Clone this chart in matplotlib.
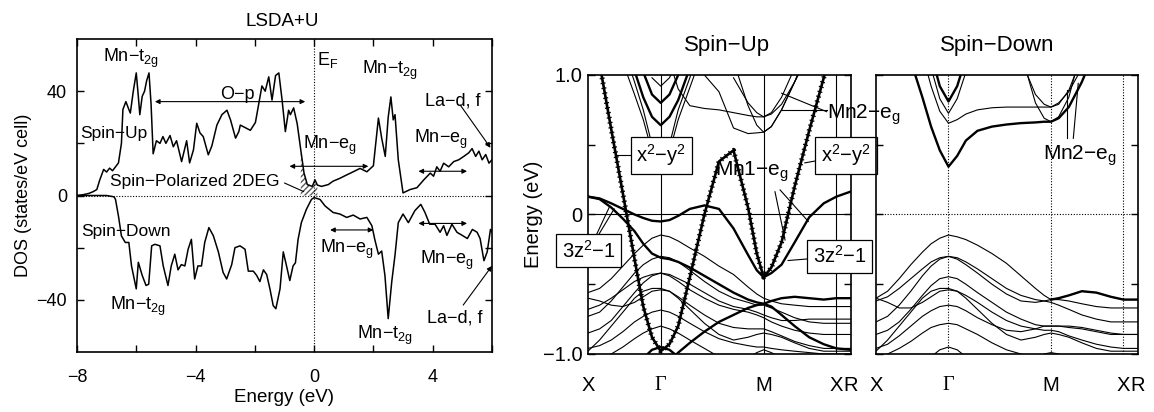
import numpy as np
import matplotlib
matplotlib.use('Agg')
import matplotlib.pyplot as plt

plt.rcParams['font.family'] = ['Liberation Sans', 'DejaVu Sans']
plt.rcParams['mathtext.fontset'] = 'custom'
plt.rcParams['mathtext.rm'] = 'Liberation Sans'
plt.rcParams['mathtext.it'] = 'Liberation Sans:italic'
plt.rcParams['mathtext.bf'] = 'Liberation Sans:bold'
nan = np.nan

# ---------------- DOS data ----------------
dos_energy_up = [-8.0, -7.8, -7.6, -7.45, -7.33, -7.23, -7.1, -7.0, -6.9, -6.8, -6.7, -6.6, -6.5, -6.45,
                 -6.35, -6.25, -6.2, -6.1, -6.0, -5.93, -5.88, -5.8, -5.72, -5.65, -5.57, -5.5, -5.43,
                 -5.32, -5.2, -5.1, -5.0, -4.86, -4.75, -4.64, -4.47, -4.3, -4.2, -4.07, -3.96, -3.85,
                 -3.74, -3.57, -3.45, -3.28, -3.11, -2.94, -2.82, -2.65, -2.54, -2.49, -2.32, -2.15,
                 -1.98, -1.87, -1.76, -1.65, -1.53, -1.42, -1.3, -1.19, -1.08, -0.97, -0.86, -0.8,
                 -0.69, -0.57, -0.45, -0.34, -0.23, -0.06, 0.03, 0.11, 0.25, 0.48, 0.64, 0.87, 1.1,
                 1.32, 1.55, 1.78, 2.0, 2.17, 2.28, 2.4, 2.5, 2.59, 2.67, 2.73, 2.84, 3.0, 3.24, 3.47,
                 3.7, 3.92, 4.03, 4.14, 4.25, 4.37, 4.54, 4.71, 4.88, 5.05, 5.22, 5.33, 5.45, 5.56,
                 5.67, 5.79, 5.9, 6.0]
dos_up = [0, 0.3, 0.8, 1.5, 2.3, 6, 10, 9, 10.5, 9.5, 11, 12.5, 20, 33,
          36, 33, 31.6, 40, 47, 38, 31, 38, 40, 44, 47, 35, 16,
          21, 20, 22.6, 20, 23, 18.7, 21, 13, 21, 12.5, 17.5, 27.7, 24,
          22.6, 15.6, 19, 27, 31, 32.7, 29, 22, 24.5, 27, 26, 25,
          28, 35, 42, 40, 45.5, 36.6, 46, 47, 36.6, 24.5, 32.7, 31,
          33.6, 27.5, 17.5, 8.6, 4.2, 3.5, 6, 4, 3.5, 4.2, 5.5, 6.6, 7.9,
          9.1, 10.4, 9.1, 11.4, 29.7, 22, 15, 30, 37.8, 29, 31, 13.7, 1, 2.3, 3,
          6, 8.6, 7.4, 11, 9.3, 12.4, 11, 13, 13.7, 15, 16.4, 18, 15, 17,
          13.7, 15.7, 12.4, 13.7]

dos_energy_dn = [-8.0, -7.0, -6.75, -6.7, -6.6, -6.5, -6.37, -6.25, -6.16, -6.0, -5.93, -5.8, -5.67,
                 -5.58, -5.48, -5.37, -5.2, -5.09, -4.93, -4.82, -4.7, -4.59, -4.48, -4.36, -4.25,
                 -4.14, -4.03, -3.92, -3.8, -3.69, -3.55, -3.4, -3.23, -3.07, -2.95, -2.78, -2.67,
                 -2.5, -2.33, -2.22, -2.05, -1.94, -1.83, -1.71, -1.6, -1.49, -1.38, -1.29, -1.15,
                 -1.04, -0.93, -0.82, -0.71, -0.63, -0.54, -0.43, -0.26, -0.09, 0.0, 0.2, 0.37,
                 0.64, 0.87, 1.1, 1.32, 1.55, 1.78, 1.95, 2.05, 2.17, 2.28, 2.39, 2.5, 2.62, 2.73,
                 2.84, 3.0, 3.18, 3.4, 3.6, 3.74, 3.9, 4.08, 4.25, 4.37, 4.48, 4.65, 4.82, 5.0,
                 5.17, 5.34, 5.5, 5.6, 5.73, 5.84, 5.95, 6.0]
dos_dn = [0, 0, -0.5, -1.5, -7.9, -15.5, -18, -18, -27, -35.8, -25.6, -30.6, -34.5,
          -34, -19.3, -18.7, -19.3, -27, -34.5, -27, -22.5, -28.5, -26.5, -27, -20.6,
          -16.8, -32, -27, -27, -18, -12.3, -15.4, -21.6, -29.5, -32, -26.5, -20,
          -19.3, -20.6, -29, -29, -30.6, -33, -28.5, -30.3, -35.8, -42.2, -43.4, -35.8,
          -21.6, -27, -32.6, -27, -25.8, -16.8, -10.4, -5.3, -1.5, -0.8, -1.5, -4,
          -6.5, -7.1, -8.4, -7.5, -9, -8.4, -11.6, -17, -22.5, -21.3, -30.7, -47.2, -33, -22.8,
          -10.4, -7.1, -10.4, -5.8, -3.4, -6.5, -11, -11, -14.1, -11.6, -15.3, -11, -14.1, -15.3,
          -16.5, -13, -14.1, -16.5, -25, -21.6, -13, -14]

# ---------------- band structure data ----------------
k_path = [0.0, 0.08, 0.16, 0.24, 0.32, 0.38, 0.44, 0.5, 0.56, 0.62, 0.7, 0.8, 0.9, 1.0,
          1.1, 1.16, 1.207, 1.26, 1.33, 1.42, 1.52, 1.62, 1.707, 1.807]
k_sym = [0.0, 0.5, 1.207, 1.707, 1.807]
k_labels = ['X', 'Γ', 'M', 'X', 'R']

# spin-up
up_x2y2 = [1.55, 1.08, 0.61, 0.15, -0.32, -0.66, -0.88, -0.98, -0.93, -0.8, -0.45, 0.0, 0.38, 0.46,
           0.05, -0.28, -0.45, -0.38, -0.2, 0.2, 0.6, 0.98, 1.35, 1.7]
up_3z2 = [0.128, 0.115, 0.08, 0.04, 0.0, -0.025, -0.045, -0.05, -0.04, -0.01, 0.04, 0.065, 0.04, -0.1,
          -0.29, -0.4, -0.45, -0.42, -0.36, -0.2, -0.02, 0.08, 0.128, 0.165]
up_thick_a = [0.128, 0.11, 0.05, -0.03, -0.12, -0.21, -0.28, -0.31, -0.32, -0.34, -0.38, -0.44, -0.5, -0.56,
              -0.61, -0.63, -0.64, -0.62, -0.6, -0.59, -0.6, -0.61, -0.6, -0.6]
up_thick_b = [nan, nan, nan, nan, 1.03, 0.84, 0.7, 0.64, 0.7, 0.82, 1.05, nan, nan, nan,
              nan, nan, nan, nan, nan, nan, nan, nan, nan, nan]
up_thick_c = [nan, nan, nan, nan, nan, 1.02, 0.86, 0.80, 0.86, 1.0, 1.2, nan, nan, nan,
              nan, nan, nan, nan, nan, nan, nan, nan, nan, nan]
up_thick_d = [-1.3, -1.3, -1.3, -1.3, -1.25, -1.2, -1.15, -1.1, -1.05, -0.99, -0.92, -0.84, -0.77, -0.72,
              -0.67, -0.65, -0.64, -0.66, -0.72, -0.8, -0.88, -0.93, -0.96, -0.97]
up_thick_e = [nan, nan, nan, nan, -1.15, -1.03, -0.97, -0.95, -0.97, -1.02, -1.1, nan, nan, nan,
              nan, nan, nan, nan, nan, nan, nan, nan, nan, nan]
up_c1 = [nan, nan, nan, 1.09, 0.86, 0.68, 0.45, 0.30, 0.45, 0.68, 0.91, 1.2, nan, nan,
         nan, nan, nan, nan, nan, nan, nan, nan, nan, nan]
up_c2 = [nan, nan, nan, 1.2, 0.95, 0.75, 0.5, 0.31, 0.5, 0.75, 0.98, 1.3, nan, nan,
         nan, nan, nan, nan, nan, nan, nan, nan, nan, nan]
up_c3 = [nan, nan, nan, nan, nan, nan, 0.98, 0.92, 0.98, 1.1, nan, nan, nan, nan,
         nan, nan, nan, nan, nan, nan, nan, nan, nan, nan]
up_c4 = [nan, nan, nan, nan, nan, nan, nan, nan, nan, nan, 1.15, 1.0, 0.88, 0.62,
         0.58, 0.585, 0.59, 0.63, 0.75, 0.95, 1.2, nan, nan, nan]
up_c5 = [nan, nan, nan, nan, nan, nan, nan, nan, 1.1, 0.9, 0.78, 0.76, 0.75, 0.73,
         0.71, 0.70, 0.70, 0.72, 0.79, 0.95, 1.15, nan, nan, nan]
up_c6 = [nan, nan, nan, nan, nan, nan, nan, nan, nan, nan, nan, nan, nan, 0.98,
         0.8, 0.73, 0.70, 0.73, 0.84, 1.05, nan, nan, nan, nan]
up_c7 = [nan, nan, nan, nan, nan, nan, nan, nan, nan, nan, nan, nan, nan, 1.1,
         0.78, 0.64, 0.59, 0.63, 0.75, 0.95, 1.2, nan, nan, nan]
up_v1 = [-0.56, -0.53, -0.46, -0.37, -0.28, -0.22, -0.17, -0.147, -0.16, -0.19, -0.24, -0.3, -0.37, -0.43,
         -0.52, -0.57, -0.6, -0.62, -0.64, -0.65, -0.66, -0.66, -0.66, -0.66]
up_v2 = [-0.73, -0.7, -0.62, -0.52, -0.42, -0.36, -0.32, -0.3, -0.31, -0.34, -0.4, -0.48, -0.55, -0.6,
         -0.63, -0.65, -0.65, -0.67, -0.7, -0.74, -0.77, -0.78, -0.78, -0.78]
up_v3 = [-0.85, -0.82, -0.76, -0.66, -0.56, -0.49, -0.44, -0.42, -0.44, -0.48, -0.54, -0.6, -0.65, -0.68,
         -0.7, -0.72, -0.74, -0.77, -0.8, -0.83, -0.85, -0.86, -0.86, -0.86]
up_v4 = [-0.6, -0.62, -0.65, -0.66, -0.63, -0.59, -0.55, -0.54, -0.55, -0.59, -0.65, -0.72, -0.78, -0.81,
         -0.82, -0.82, -0.82, -0.84, -0.87, -0.91, -0.94, -0.96, -0.96, -0.96]
up_v5 = [-0.96, -0.94, -0.9, -0.84, -0.77, -0.73, -0.7, -0.685, -0.7, -0.73, -0.78, -0.84, -0.89, -0.92,
         -0.94, -0.95, -0.95, -0.96, -0.97, -0.98, -0.99, -1.0, -1.0, -1.0]
up_v6 = [-1.05, -1.03, -1.0, -0.95, -0.89, -0.85, -0.82, -0.80, -0.82, -0.85, -0.9, -0.96, -1.02, -1.06,
         -1.1, -1.1, -1.1, -1.1, -1.1, -1.1, -1.1, -1.1, -1.1, -1.1]
up_v7 = [-0.68, -0.65, -0.6, -0.54, -0.48, -0.45, -0.43, -0.42, -0.43, -0.46, -0.5, -0.56, -0.62, -0.66,
         -0.68, -0.7, -0.72, -0.74, -0.76, -0.76, -0.75, -0.75, -0.75, -0.75]
up_v8 = [nan, nan, nan, nan, nan, nan, nan, nan, nan, nan, nan, nan, nan, -1.1,
         -1.03, -0.99, -0.97, -0.99, -1.03, -1.1, nan, nan, nan, nan]
up_v9 = [-0.98, -0.9, -0.8, -0.7, -0.6, -0.55, -0.53, -0.53, -0.55, -0.6, -0.68, -0.78, -0.86, -0.9,
         -0.88, -0.86, -0.85, -0.86, -0.88, -0.92, -0.96, -0.98, -0.98, -0.98]

# spin-down
dn_thick_a = [nan, nan, nan, 1.1, 0.84, 0.63, 0.46, 0.343, 0.42, 0.53, 0.6, 0.63, 0.645, 0.655,
              0.66, 0.665, 0.665, 0.69, 0.77, 0.95, 1.2, nan, nan, nan]
dn_thick_b = [nan, nan, nan, nan, nan, 1.15, 0.92, 0.81, 0.92, 1.12, nan, nan, nan, nan,
              nan, nan, nan, nan, nan, nan, nan, nan, nan, nan]
dn_thick_c = [nan, nan, nan, nan, nan, nan, nan, nan, nan, nan, nan, nan, nan, nan,
              nan, nan, -0.61, -0.6, -0.58, -0.55, -0.56, -0.59, -0.61, -0.61]
dn_c1 = [nan, nan, nan, nan, 1.15, 0.92, 0.74, 0.654, 0.68, 0.72, 0.75, 0.765, 0.77, 0.77,
         0.77, 0.77, 0.77, 0.8, 0.88, 1.05, 1.3, nan, nan, nan]
dn_c2 = [nan, nan, nan, nan, nan, 1.05, 0.83, 0.725, 0.83, 1.02, 1.25, nan, nan, nan,
         nan, nan, nan, nan, nan, nan, nan, nan, nan, nan]
dn_c3 = [nan, nan, nan, nan, nan, nan, nan, nan, nan, nan, nan, nan, nan, 1.16,
         0.8, 0.69, 0.665, 0.7, 0.84, 1.19, nan, nan, nan, nan]
dn_c4 = [nan, nan, nan, nan, nan, nan, nan, nan, nan, nan, nan, nan, nan, 1.11,
         0.86, 0.79, 0.77, 0.79, 0.89, 1.13, nan, nan, nan, nan]
dn_v0 = [-0.6, -0.55, -0.46, -0.36, -0.27, -0.21, -0.17, -0.147, -0.16, -0.18, -0.22, -0.28, -0.35, -0.44,
         -0.53, -0.58, -0.61, -0.6, -0.58, -0.55, -0.56, -0.59, -0.61, -0.61]
dn_v1 = [-0.77, -0.73, -0.65, -0.55, -0.44, -0.37, -0.32, -0.30, -0.31, -0.34, -0.39, -0.46, -0.53, -0.58,
         -0.61, -0.62, -0.63, -0.65, -0.68, -0.72, -0.75, -0.77, -0.77, -0.77]
dn_v2 = [-0.86, -0.83, -0.77, -0.68, -0.58, -0.51, -0.46, -0.446, -0.46, -0.5, -0.56, -0.63, -0.7, -0.75,
         -0.79, -0.8, -0.8, -0.8, -0.8, -0.81, -0.83, -0.85, -0.86, -0.86]
dn_v3 = [-0.6, -0.63, -0.67, -0.67, -0.63, -0.59, -0.55, -0.54, -0.55, -0.58, -0.63, -0.7, -0.76, -0.8,
         -0.82, -0.83, -0.83, -0.84, -0.87, -0.9, -0.93, -0.95, -0.96, -0.96]
dn_v4 = [-0.96, -0.93, -0.87, -0.8, -0.73, -0.69, -0.66, -0.65, -0.66, -0.69, -0.74, -0.79, -0.83, -0.84,
         -0.82, -0.8, -0.8, -0.8, -0.81, -0.82, -0.84, -0.86, -0.86, -0.86]
dn_v5 = [-1.02, -1.0, -0.96, -0.91, -0.85, -0.81, -0.79, -0.78, -0.79, -0.82, -0.86, -0.92, -0.97, -1.0,
         -1.03, -1.05, -1.05, -1.05, -1.05, -1.05, -1.05, -1.05, -1.05, -1.05]
dn_v6 = [nan, nan, nan, nan, -1.12, -1.02, -0.97, -0.95, -0.97, -1.02, -1.1, nan, nan, nan,
         nan, nan, nan, nan, nan, nan, nan, nan, nan, nan]
dn_v7 = [-0.62, -0.59, -0.53, -0.46, -0.39, -0.34, -0.31, -0.3, -0.32, -0.36, -0.42, -0.5, -0.57, -0.62,
         -0.63, -0.62, -0.61, -0.61, -0.62, -0.64, -0.66, -0.67, -0.67, -0.67]
dn_v8 = [nan, nan, nan, nan, nan, nan, nan, nan, nan, nan, nan, nan, nan, -1.1,
         -1.04, -1.0, -0.99, -1.0, -1.04, -1.1, nan, nan, nan, nan]
dn_v9 = [-0.98, -0.9, -0.8, -0.7, -0.6, -0.55, -0.53, -0.53, -0.55, -0.6, -0.68, -0.78, -0.86, -0.9,
         -0.88, -0.86, -0.85, -0.86, -0.88, -0.92, -0.96, -0.98, -0.98, -0.98]

# ---------------- figure ----------------
fig = plt.figure(figsize=(11.54, 4.12), dpi=100)
ax1 = fig.add_axes([0.0667, 0.1456, 0.3596, 0.7597])
ax2 = fig.add_axes([0.5095, 0.1408, 0.2279, 0.6772])
ax3 = fig.add_axes([0.7591, 0.1408, 0.2270, 0.6772])
ax3.patch.set_alpha(0)

for ax in (ax1, ax2, ax3):
    for s in ax.spines.values():
        s.set_linewidth(1.2)

# ---- DOS panel ----
E_up = np.array(dos_energy_up)
D_up = np.array(dos_up)
ax1.plot(E_up, D_up, color='k', lw=1.1)
ax1.plot(dos_energy_dn, dos_dn, color='k', lw=1.1)
ax1.axhline(0, color='k', lw=0.8, ls=(0, (1, 1.5)))
ax1.axvline(0, color='k', lw=0.8, ls=(0, (1, 1.5)))
mask = (E_up >= -0.45) & (E_up <= 0.11)
ax1.fill_between(E_up, 0, D_up, where=mask, facecolor='none', edgecolor='0.35', hatch='//////', lw=0)
ax1.set_xlim(-8, 6)
ax1.set_ylim(-60, 60)
ax1.set_xticks([-8, -6, -4, -2, 0, 2, 4, 6])
ax1.set_xticklabels(['−8', '', '−4', '', '0', '', '4', ''])
ax1.set_yticks([-40, -20, 0, 20, 40])
ax1.set_yticklabels(['−40', '', '0', '', '40'])
ax1.tick_params(direction='in', top=True, right=True, length=5, width=1, labelsize=13)
ax1.tick_params(axis='x', pad=12)
ax1.tick_params(axis='y', pad=7)
ax1.set_xlabel('Energy (eV)', fontsize=13.5)
ax1.set_ylabel('DOS (states/eV cell)', fontsize=13)
ax1.xaxis.set_label_coords(0.5, -0.118)
ax1.yaxis.set_label_coords(-0.108, 0.5)
ax1.text(0.494, 1.042, 'LSDA+U', transform=ax1.transAxes, ha='center', va='baseline', fontsize=13.5)

fs = 13
fss = 12.5
ax1.text(-7.13, 51.2, 'Mn−t$_\\mathrm{2g}$', fontsize=fs)
ax1.text(-3.18, 37.1, 'O−p', fontsize=fs)
ax1.text(0.09, 49.9, 'E$_\\mathrm{F}$', fontsize=fs)
ax1.text(1.61, 46.7, 'Mn−t$_\\mathrm{2g}$', fontsize=fs)
ax1.text(3.75, 34.7, 'La−d, f', fontsize=fs)
ax1.text(3.36, 20.0, 'Mn−e$_\\mathrm{g}$', fontsize=fs)
ax1.text(-0.36, 17.8, 'Mn−e$_\\mathrm{g}$', fontsize=fs)
ax1.text(-7.9, 22.2, 'Spin−Up', fontsize=fss)
ax1.text(-6.89, 3.6, 'Spin−Polarized 2DEG', fontsize=fss)
ax1.text(-7.87, -15.7, 'Spin−Down', fontsize=fss)
ax1.text(-6.89, -44.0, 'Mn−t$_\\mathrm{2g}$', fontsize=fs)
ax1.text(0.2, -22.1, 'Mn−e$_\\mathrm{g}$', fontsize=fs)
ax1.text(1.44, -55.1, 'Mn−t$_\\mathrm{2g}$', fontsize=fs)
ax1.text(3.58, -26.3, 'Mn−e$_\\mathrm{g}$', fontsize=fs)
ax1.text(3.81, -48.5, 'La−d, f', fontsize=fs)

dbl = dict(arrowstyle='<|-|>', lw=0.8, color='k', shrinkA=0, shrinkB=0, mutation_scale=7)
sgl = dict(arrowstyle='-|>', lw=0.8, color='k', shrinkA=0, shrinkB=0, mutation_scale=7)
ax1.annotate('', xy=(-0.3, 36), xytext=(-5.37, 36), arrowprops=dbl)
ax1.annotate('', xy=(1.83, 11.2), xytext=(-0.83, 11.2), arrowprops=dbl)
ax1.annotate('', xy=(5.16, 9.3), xytext=(3.52, 9.3), arrowprops=dbl)
ax1.annotate('', xy=(2.0, -13.2), xytext=(0.54, -13.2), arrowprops=dbl)
ax1.annotate('', xy=(5.16, -10.7), xytext=(3.52, -10.7), arrowprops=dbl)
ax1.annotate('', xy=(5.95, 18.3), xytext=(4.93, 34.7), arrowprops=sgl)
ax1.annotate('', xy=(6.0, -27), xytext=(5.03, -42), arrowprops=sgl)
ax1.annotate('', xy=(-0.35, 1.5), xytext=(-1.0, 4.8),
             arrowprops=dict(arrowstyle='-', lw=0.8, color='k', shrinkA=0, shrinkB=0))

# ---- band panels ----
def setup_band_axis(ax, dotted, ylabels):
    ls = (0, (1, 1.5)) if dotted else '-'
    for kk in k_sym[1:4]:
        ax.axvline(kk, color='k', lw=0.8, ls=ls, zorder=1)
    ax.axhline(0, color='k', lw=0.8, ls=ls, zorder=1)
    ax.set_xlim(k_sym[0], k_sym[-1])
    ax.set_ylim(-1, 1)
    ax.set_xticks(k_sym)
    ax.set_xticklabels(k_labels, fontsize=14.5)
    ax.set_yticks([-1, -0.5, 0, 0.5, 1])
    if ylabels:
        ax.set_yticklabels(['−1.0', '', '0', '', '1.0'], fontsize=14.5)
    else:
        ax.set_yticklabels([])
    ax.tick_params(axis='y', direction='in', left=True, right=True, length=5, width=1, pad=4)
    ax.tick_params(axis='x', length=0, pad=16)
    for lbl in ax.get_xticklabels():
        if lbl.get_text() == 'Γ':
            lbl.set_fontfamily('Liberation Serif')

setup_band_axis(ax2, False, True)
setup_band_axis(ax3, True, False)

thin, thick = 0.8, 1.7
for b in [up_c1, up_c2, up_c3, up_c4, up_c5, up_c6, up_c7, up_v1, up_v2, up_v3, up_v4, up_v5,
          up_v6, up_v7, up_v8, up_v9]:
    ax2.plot(k_path, b, color='k', lw=thin)
for b in [up_thick_a, up_thick_b, up_thick_c, up_thick_d, up_thick_e, up_3z2]:
    ax2.plot(k_path, b, color='k', lw=thick)
ax2.plot(k_path, up_x2y2, color='k', lw=1.9)
ax2.plot(k_path, up_x2y2, color='k', lw=3.6, ls=(0, (0.25, 0.75)), dash_capstyle='butt')

for b in [dn_c1, dn_c2, dn_c3, dn_c4, dn_v0, dn_v1, dn_v2, dn_v3, dn_v4, dn_v5, dn_v6, dn_v7, dn_v8, dn_v9]:
    ax3.plot(k_path, b, color='k', lw=thin)
for b in [dn_thick_a, dn_thick_b, dn_thick_c]:
    ax3.plot(k_path, b, color='k', lw=thick)

ax2.set_ylabel('Energy (eV)', fontsize=14.5)
ax2.yaxis.set_label_coords(-0.171, 0.5)
ax2.text(0.53, 1.087, 'Spin−Up', transform=ax2.transAxes, ha='center', va='baseline', fontsize=16)
ax3.text(0.464, 1.087, 'Spin−Down', transform=ax3.transAxes, ha='center', va='baseline', fontsize=16)

box = dict(boxstyle='square,pad=0.28', facecolor='white', edgecolor='k', lw=0.9)

def boxed(ax, txt, center, targets):
    for t in targets:
        ax.plot([center[0], t[0]], [center[1], t[1]], color='k', lw=0.8, zorder=6, clip_on=False)
    ax.text(center[0], center[1], txt, ha='center', va='center', fontsize=14.5, bbox=box,
            zorder=7, clip_on=False)

boxed(ax2, 'x$^2$−y$^2$', (0.502, 0.423), [(0.19, 0.423)])
boxed(ax2, 'x$^2$−y$^2$', (1.773, 0.423), [(1.49, 0.37)])
boxed(ax2, '3z$^2$−1', (0.007, -0.26), [(0.15, 0.06), (0.18, 0.04)])
boxed(ax2, '3z$^2$−1', (1.73, -0.30), [(1.375, -0.33)])

bfs = 15
ax2.text(0.873, 0.276, 'Mn1−e$_\\mathrm{g}$', fontsize=bfs, zorder=7)
ax2.plot([1.285, 1.354], [0.163, -0.183], color='k', lw=0.8, zorder=6)
ax2.plot([1.32, 1.514], [0.176, -0.05], color='k', lw=0.8, zorder=6)
ax2.text(1.643, 0.69, 'Mn2−e$_\\mathrm{g}$', fontsize=bfs, zorder=7, clip_on=False)
ax2.plot([1.331, 1.64], [0.869, 0.737], color='k', lw=0.8, zorder=6, clip_on=False)
ax2.plot([1.331, 1.64], [0.749, 0.749], color='k', lw=0.8, zorder=6, clip_on=False)

ax3.text(1.152, 0.39, 'Mn2−e$_\\mathrm{g}$', fontsize=bfs, zorder=7)
ax3.plot([1.316, 1.316], [0.546, 0.892], color='k', lw=0.8, zorder=6)
ax3.plot([1.361, 1.395], [0.546, 0.94], color='k', lw=0.8, zorder=6)

fig.savefig('out.png', dpi=100)
